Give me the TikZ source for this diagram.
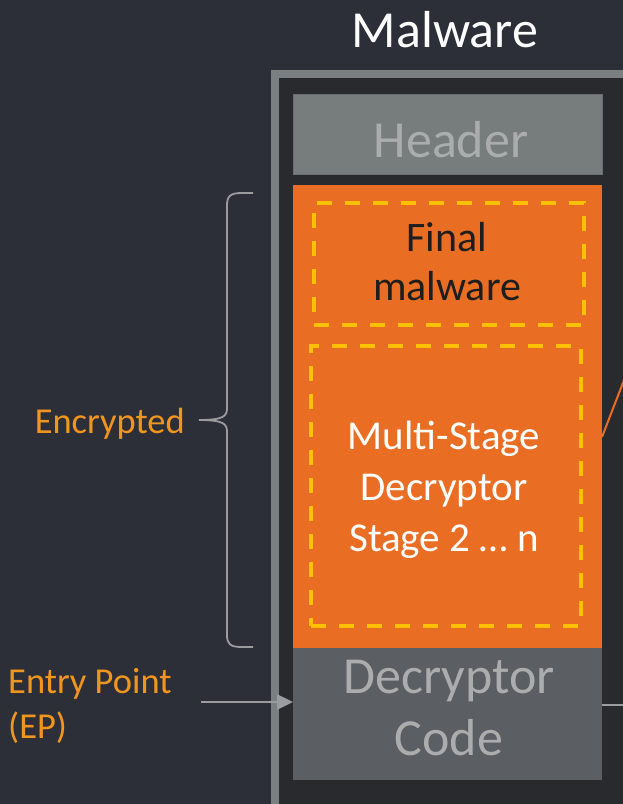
\documentclass[tikz,border=0pt]{standalone}
\usepackage{fontspec}
\setmainfont{Carlito}
\usetikzlibrary{positioning,arrows.meta}

\definecolor{sfondo}{HTML}{2C2F38}
\definecolor{cornice}{HTML}{7A7F80}
\definecolor{interno}{HTML}{292A2D}
\definecolor{grigiohdr}{HTML}{777C7C}
\definecolor{bordohdr}{HTML}{6A6E6E}
\definecolor{grigiodec}{HTML}{5B5E62}
\definecolor{testogrigio}{HTML}{ABADAD}
\definecolor{linee}{HTML}{9A9C9E}
\definecolor{arancio}{HTML}{E96E24}
\definecolor{giallo}{HTML}{FFC000}
\definecolor{etichetta}{HTML}{F0961E}
\definecolor{scuro}{HTML}{1E1E1E}

\begin{document}
\begin{tikzpicture}[x=1pt, y=-1pt,
        blocco/.style={inner sep=0pt, anchor=north west},
        tratteggio/.style={blocco, draw=giallo, line width=3.5pt, dash pattern=on 15pt off 13pt},
        testo/.style={inner sep=0pt, align=center},
        graffa/.style={draw=linee, line width=1.8pt},
        freccia/.style={draw=linee, line width=2.5pt, -{Triangle[length=16pt,width=15pt]}}]
        \useasboundingbox (0,0) rectangle (623,804);
        \fill[sfondo] (0,0) rectangle (623,804);
        \clip (0,0) rectangle (623,804);

        % BLOCCHI
        \node[blocco, draw=cornice, line width=8pt, fill=interno, minimum width=353pt, minimum height=734pt] (file) at (271,70) {};
        \node[blocco, fill=grigiohdr, draw=bordohdr, line width=1pt, minimum width=309pt, minimum height=80pt] (hdr) at (293,94) {};
        \node[blocco, fill=arancio, minimum width=309pt, minimum height=463pt] (cifrato) at (293,185) {};
        \node[tratteggio, minimum width=270pt, minimum height=122pt] (finale) at (312,201) {};
        \node[tratteggio, minimum width=270pt, minimum height=280pt] (stadi) at (309,344) {};
        \node[blocco, fill=grigiodec, minimum width=309pt, minimum height=132pt] (decr) at (293,648) {};

        % TESTI
        \node[testo, text=white, font=\fontsize{52}{60}\selectfont] (titolo) at (445,30) {Malware};
        \node[testo, text=testogrigio, font=\fontsize{52}{60}\selectfont] (t-hdr) at (451,140) {Header};
        \node[testo, text=scuro, font=\fontsize{42}{49}\selectfont] (t-finale) at (447,262) {Final\\malware};
        \node[testo, text=white, font=\fontsize{41}{51}\selectfont] (t-stadi) at (444,490) {Multi-Stage\\Decryptor\\Stage 2 … n};
        \node[testo, text=testogrigio, font=\fontsize{52}{62}\selectfont] (t-decr) at (449,708) {Decryptor\\Code};
        \node[testo, text=etichetta, font=\fontsize{36.5}{44}\selectfont, anchor=east] (enc) at (185,424) {Encrypted};
        \node[testo, text=etichetta, font=\fontsize{36.5}{45}\selectfont, anchor=west, align=left] (ep) at (8,706) {Entry Point\\(EP)};

        % GRAFFA
        \coordinate (punta) at (199,420);
        \draw[graffa] (253,193) -- (242,193) .. controls (230,193) and (227,196) .. (227,206)
            -- (227,408) .. controls (227,416) and (224,420) .. (punta)
            .. controls (224,420) and (227,424) .. (227,432)
            -- (227,635) .. controls (227,644) and (230,647) .. (242,647) -- (253,647);

        % COLLEGAMENTI
        \coordinate (ingresso) at (201,702);
        \coordinate (uscita) at (626,705);
        \coordinate (attacco) at (602,437);
        \coordinate (fuori) at (626,375);
        \draw[freccia] (ingresso) -- (ingresso -| decr.west);
        \draw[draw=linee, line width=2pt] (decr.east |- uscita) -- (uscita);
        \draw[draw=arancio, line width=2pt] (attacco) -- (fuori);
\end{tikzpicture}
\end{document}
